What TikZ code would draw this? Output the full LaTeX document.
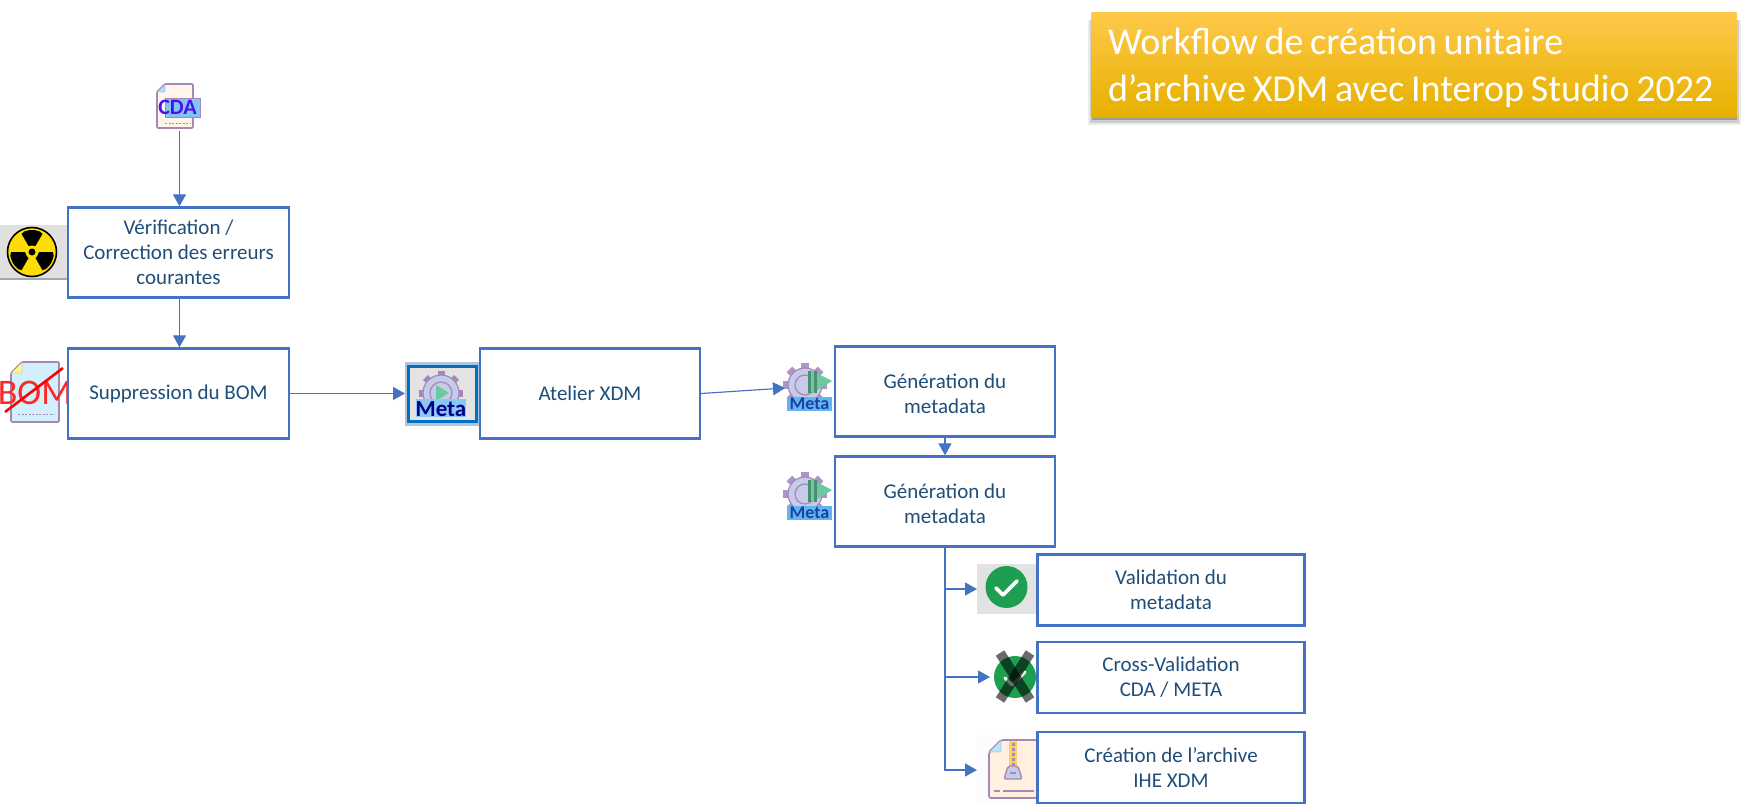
\documentclass[tikz,border=0pt]{standalone}
\usepackage{fontspec}
\setmainfont{Carlito}
\newfontfamily\titlefont[WordSpace=0.78]{Carlito}
\usetikzlibrary{arrows.meta}
\definecolor{edgeblue}{HTML}{4472C4}
\definecolor{labelblue}{HTML}{1F4E79}
\definecolor{docedge}{HTML}{A688B8}
\definecolor{gearfill}{HTML}{C5CBE9}
\definecolor{playgreen}{HTML}{6CC9A0}
\definecolor{okgreen}{HTML}{1E9E50}
\definecolor{titletop}{HTML}{FFC94A}
\definecolor{titlemid}{HTML}{FFC400}
\definecolor{titlebot}{HTML}{E6B000}
\definecolor{metaband}{HTML}{63B5F0}
\definecolor{metaink}{HTML}{1F3FA8}
\definecolor{metaframe}{HTML}{0070C0}
\definecolor{metahalo}{HTML}{B0C4DE}
\definecolor{cdaink}{HTML}{4A10F0}
\tikzset{
  wfbox/.style={draw=edgeblue,line width=2.4pt,fill=white,align=center,text=labelblue,
    font=\fontsize{21}{25}\selectfont,inner sep=0pt},
  flow/.style={draw=edgeblue,line width=1.15pt,-{Triangle[length=12pt,width=13pt]}},
  iconslot/.style={inner sep=0pt,outer sep=0pt},
  docline/.style={draw=docedge,line width=1.6pt,line join=round},
  metatext/.style={inner sep=0pt,font=\bfseries},
}
\newcommand{\smallmeta}[3]{%
  \begin{scope}[shift={(#1,#2)}]
    \foreach \a in {0,45,...,315}{\fill[docedge!80!gearfill,rotate=\a] (-4,-22) rectangle (4,-15);}
    \fill[gearfill,draw=docedge,line width=1.2pt] (0,0) circle (17);
    \draw[docedge,line width=1.2pt] (0,0) circle (10);
    \fill[playgreen] (6,-15) -- (27,-4) -- (6,9) -- cycle;
    \fill[playgreen!70!black] (3,-14) rectangle (6,8);
    \fill[playgreen!70!black] (9,-14) rectangle (12,8);
    \fill[metaband] (-18,12) rectangle (27,26);
    \node[metatext,text=metaink,font=\bfseries\fontsize{18}{18}\selectfont] (#3) at (4.5,19) {Meta};
  \end{scope}}
\begin{document}
\begin{tikzpicture}[x=1pt,y=-1pt]
\useasboundingbox (0,0) rectangle (1748,806);
% title
\fill[black,opacity=.08] (1088,20) rectangle (1741,125);
\fill[black,opacity=.12] (1090,20) rectangle (1739,123);
\fill[black,opacity=.25] (1092,20) rectangle (1737,120);
\node[iconslot,minimum width=645pt,minimum height=105pt,top color=titletop,middle color=titlemid,bottom color=titlebot] (title) at (1414,64.5) {};
\node[iconslot,text=white,align=left,anchor=west,font=\titlefont\fontsize{38}{47}\selectfont] (titletext) at (1108,68) {Workflow de création unitaire\\d’archive XDM avec Interop Studio 2022};
% CDA icon
\node[iconslot,minimum width=40pt,minimum height=48pt] (cdaicon) at (179.5,107) {};
\draw[docline,fill=orange!8,rounded corners=1pt] (165,84) -- (193,84) -- (193,128) -- (157,128) -- (157,92) -- cycle;
\fill[cyan!35,draw=docedge] (165,84) -- (157,92) -- (165,92) -- cycle;
\fill[metaband!80,draw=docedge] (165,98) rectangle (200,117);
\draw[docedge,line width=1pt,dash pattern=on 2pt off 1.5pt] (165,123) -- (190,123);
\node[metatext,text=cdaink,font=\bfseries\fontsize{22}{22}\selectfont] (cdatext) at (177.5,107.5) {CDA};
% radiation icon
\node[iconslot,minimum width=68pt,minimum height=54pt,fill=black!12] (radicon) at (34,252) {};
\draw[black!35,line width=1.2pt] (0,279) -- (68,279);
\draw[black!30,line width=1pt] (67.5,225) -- (67.5,279);
\begin{scope}[shift={(32,252)}]
  \fill[yellow!80!orange,draw=black,line width=1.6pt] (0,0) circle (24.5);
  \foreach \a in {270,30,150}{
    \fill[black] (\a-30:7) -- (\a-30:21) -- (\a-20:22) -- (\a-10:22) -- (\a:22) -- (\a+10:22) -- (\a+20:22) -- (\a+30:21) -- (\a+30:7) -- cycle;}
  \fill[yellow!80!orange] (0,0) circle (6.5);
  \fill[black] (0,0) circle (3.5);
\end{scope}
% BOM icon
\node[iconslot,minimum width=67pt,minimum height=60pt] (bomicon) at (33.5,392) {};
\draw[docline,fill=cyan!18,rounded corners=1pt] (22,362) -- (59,362) -- (59,422) -- (11,422) -- (11,373) -- cycle;
\fill[yellow!45,draw=docedge] (22,362) -- (11,373) -- (22,373) -- cycle;
\draw[docedge,line width=1pt,dash pattern=on 2pt off 1.5pt] (18,414) -- (54,414);
\node[metatext,text=red!85,font=\fontsize{36}{36}\selectfont] (bomtext) at (35,393) {BOM};
\draw[red,line width=2.6pt] (5,412) -- (63,368);
% big Meta icon
\node[iconslot,minimum width=74pt,minimum height=64pt,fill=metahalo] (metaicon) at (442,393.5) {};
\fill[black!11,draw=metaframe,line width=3pt] (408,366) rectangle (476,421);
\begin{scope}[shift={(441,393)}]
  \foreach \a in {0,45,...,315}{\fill[docedge,rotate=\a] (-3.5,-22) rectangle (3.5,-15);}
  \fill[gearfill,draw=docedge,line width=1.2pt] (0,0) circle (18);
  \draw[docedge,line width=1.2pt] (0,0) circle (11);
  \fill[playgreen] (-5,-8) -- (8,0) -- (-5,8) -- cycle;
\end{scope}
\fill[metaband!75] (416,399) rectangle (466,417);
\node[metatext,text=blue!55!black,font=\bfseries\fontsize{23}{23}\selectfont] (metaword) at (441,409) {Meta};
% small Meta icons
\node[iconslot,minimum width=47pt,minimum height=54pt] (genicona) at (808.5,388) {};
\smallmeta{805}{385}{metaworda}
\node[iconslot,minimum width=47pt,minimum height=54pt] (geniconb) at (808.5,497) {};
\smallmeta{805}{494}{metawordb}
% validation icon
\node[iconslot,minimum width=60pt,minimum height=50pt,fill=black!11] (valicon) at (1007,589) {};
\fill[okgreen] (1006.5,587) circle (21);
\draw[white,line width=3.6pt,line cap=round,line join=round] (996,588) -- (1003,595) -- (1017,581);
% cross validation icon
\node[iconslot,minimum width=50pt,minimum height=50pt] (crossicon) at (1015,677) {};
\fill[okgreen] (1015,677) circle (21);
\draw[white,line width=3pt,line cap=round,line join=round] (1005,678) -- (1012,685) -- (1025,672);
\draw[black,opacity=.58,line width=10pt] (1000,653) -- (1030,700);
\draw[black,opacity=.58,line width=10pt] (1030,653) -- (1000,700);
% zip icon
\node[iconslot,minimum width=60pt,minimum height=70pt,fill=black!1] (zipicon) at (1007,770) {};
\draw[docline,fill=orange!12,rounded corners=2pt] (1001,740) -- (1037,740) -- (1037,798) -- (989,798) -- (989,752) -- cycle;
\fill[cyan!30,draw=docedge] (1001,740) -- (989,752) -- (1001,752) -- cycle;
\fill[yellow!45!orange!60] (1009,741) rectangle (1017,766);
\draw[docedge,line width=3pt,dash pattern=on 3pt off 2pt] (1013,743) -- (1013,766);
\fill[gearfill,draw=docedge,line width=1.4pt,rounded corners=2pt] (1008,766) -- (1018,766) -- (1022,779) -- (1004,779) -- cycle;
\draw[docedge,line width=1.4pt] (1010,773) -- (1016,773);
\draw[docedge,line width=1.4pt] (994,791) -- (1000,791) (1003,791) -- (1034,791);
% boxes
\node[wfbox,minimum width=221pt,minimum height=90pt] (verif) at (178.5,252.5) {Vérification /\\Correction des erreurs\\courantes};
\node[wfbox,minimum width=221pt,minimum height=90pt] (bom) at (178.5,393.5) {Suppression du BOM};
\node[wfbox,minimum width=220pt,minimum height=90pt] (atelier) at (590,393.5) {Atelier XDM};
\node[wfbox,minimum width=220pt,minimum height=90pt] (gena) at (945,391.5) {\strut\\[-24pt]Génération du\\metadata};
\node[wfbox,minimum width=220pt,minimum height=90pt] (genb) at (945,501.5) {\strut\\[-24pt]Génération du\\metadata};
\node[wfbox,minimum width=267pt,minimum height=71pt] (valid) at (1171,590) {Validation du\\metadata};
\node[wfbox,minimum width=267pt,minimum height=71pt] (cross) at (1171,677.5) {Cross-Validation\\CDA / META};
\node[wfbox,minimum width=267pt,minimum height=71pt] (crea) at (1171,767.5) {Création de l’archive\\IHE XDM};
% connectors
\draw[flow] (cdaicon.south) -- (cdaicon.south |- verif.north);
\draw[flow] (cdaicon.south |- verif.south) -- (cdaicon.south |- bom.north);
\draw[flow] (bom.east) -- (metaicon.west);
\draw[flow] (atelier.east) -- (genicona.west);
\draw[flow] (gena.south) -- (genb.north);
\draw[flow] (genb.south) |- (valicon.west);
\draw[flow] (genb.south) |- (crossicon.west);
\draw[flow] (genb.south) |- (zipicon.west);
\end{tikzpicture}
\end{document}
